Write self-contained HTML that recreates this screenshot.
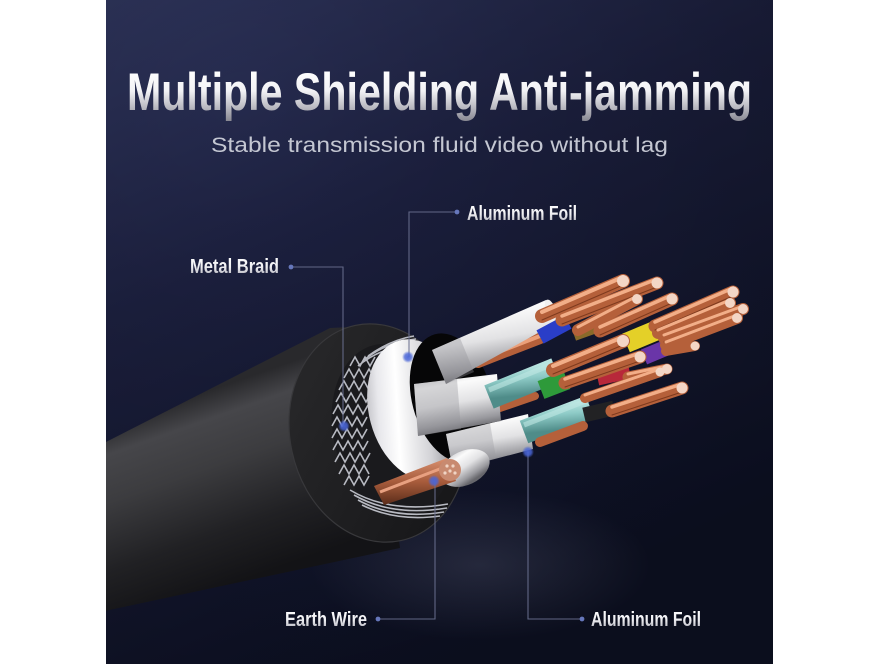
<!DOCTYPE html>
<html><head><meta charset="utf-8"><style>
html,body{margin:0;padding:0;background:#fff;width:870px;height:664px;overflow:hidden;}
svg{display:block;}
</style></head><body>
<svg width="870" height="664" viewBox="0 0 870 664" xmlns="http://www.w3.org/2000/svg">
<defs>
 <clipPath id="panel"><rect x="106" y="0" width="667" height="664"/></clipPath>
 <linearGradient id="bg" x1="0" y1="0" x2="0.45" y2="1">
  <stop offset="0" stop-color="#2d3359"/>
  <stop offset="0.4" stop-color="#1d2141"/>
  <stop offset="1" stop-color="#0e1227"/>
 </linearGradient>
 <radialGradient id="vig" cx="0.2" cy="0.15" r="0.9">
  <stop offset="0" stop-color="#000" stop-opacity="0"/>
  <stop offset="1" stop-color="#000" stop-opacity="0.25"/>
 </radialGradient>
 <radialGradient id="haze" cx="0.5" cy="0.5" r="0.5">
  <stop offset="0" stop-color="#7a7e98" stop-opacity="0.22"/>
  <stop offset="1" stop-color="#7a7e98" stop-opacity="0"/>
 </radialGradient>
 <linearGradient id="title" gradientUnits="userSpaceOnUse" x1="0" y1="70" x2="0" y2="122">
  <stop offset="0" stop-color="#ffffff"/>
  <stop offset="0.4" stop-color="#f2f2f5"/>
  <stop offset="0.75" stop-color="#b4b4bc"/>
  <stop offset="1" stop-color="#85858f"/>
 </linearGradient>
 <linearGradient id="lbl" x1="0" y1="0" x2="0" y2="1">
  <stop offset="0" stop-color="#ffffff"/>
  <stop offset="0.5" stop-color="#eeeef2"/>
  <stop offset="1" stop-color="#a2a2ac"/>
 </linearGradient>
 <linearGradient id="body" gradientUnits="userSpaceOnUse" x1="200" y1="394" x2="263" y2="573">
  <stop offset="0" stop-color="#29292c"/>
  <stop offset="0.14" stop-color="#46464a"/>
  <stop offset="0.38" stop-color="#3c3c3f"/>
  <stop offset="0.72" stop-color="#212124"/>
  <stop offset="1" stop-color="#131316"/>
 </linearGradient>
 <linearGradient id="face" x1="0" y1="0" x2="1" y2="1">
  <stop offset="0" stop-color="#2a2a2c"/>
  <stop offset="1" stop-color="#141416"/>
 </linearGradient>
 <linearGradient id="foil" x1="0" y1="0" x2="1" y2="0.3">
  <stop offset="0" stop-color="#a4a4aa"/>
  <stop offset="0.22" stop-color="#e8e8ec"/>
  <stop offset="0.4" stop-color="#ffffff"/>
  <stop offset="0.7" stop-color="#d2d2d6"/>
  <stop offset="1" stop-color="#7a7a80"/>
 </linearGradient>
 <linearGradient id="tube" x1="0" y1="0" x2="0.25" y2="1">
  <stop offset="0" stop-color="#c6c6ca"/>
  <stop offset="0.25" stop-color="#fbfbfb"/>
  <stop offset="0.55" stop-color="#e2e2e4"/>
  <stop offset="0.85" stop-color="#99999e"/>
  <stop offset="1" stop-color="#66666b"/>
 </linearGradient>
 <linearGradient id="teal" x1="0" y1="0" x2="0.25" y2="1">
  <stop offset="0" stop-color="#b8e4e0"/>
  <stop offset="0.4" stop-color="#8ecbc7"/>
  <stop offset="1" stop-color="#4f8c89"/>
 </linearGradient>
 <linearGradient id="earth" x1="0" y1="0" x2="0" y2="1">
  <stop offset="0" stop-color="#d89070"/>
  <stop offset="0.5" stop-color="#a85c3c"/>
  <stop offset="1" stop-color="#5a2c1a"/>
 </linearGradient>
 <radialGradient id="dotg" cx="0.5" cy="0.5" r="0.5">
  <stop offset="0" stop-color="#4a66d8" stop-opacity="0.95"/>
  <stop offset="0.55" stop-color="#4a66d8" stop-opacity="0.8"/>
  <stop offset="1" stop-color="#4a66d8" stop-opacity="0"/>
 </radialGradient>
</defs>

<g clip-path="url(#panel)">
 <rect x="106" y="0" width="667" height="664" fill="url(#bg)"/>
 <rect x="106" y="0" width="667" height="664" fill="url(#vig)"/>
 <ellipse cx="480" cy="565" rx="170" ry="75" fill="url(#haze)"/>

 <!-- cable body -->
 <path d="M100,445 L330,328 L372,326 L400,548 L100,612 Z" fill="url(#body)"/>
 <!-- end face -->
 <ellipse cx="378" cy="433" rx="88" ry="110" transform="rotate(-12 378 433)" fill="url(#face)" stroke="#38383b" stroke-width="1.2"/>
 <!-- braid cavity -->
 <ellipse cx="393" cy="430" rx="60" ry="87" transform="rotate(-12 393 430)" fill="#1a1a1d"/>
 <g stroke="#b8bac2" stroke-width="1.6" fill="none">
  <polyline points="350,366 355,357 360,366 365,357 370,366 375,357"/>
  <polyline points="344,378 349,369 354,378 359,369 364,378 369,369 374,378"/>
  <polyline points="339,390 344,381 349,390 354,381 359,390 364,381 369,390 374,381"/>
  <polyline points="336,402 341,393 346,402 351,393 356,402 361,393 366,402 371,393"/>
  <polyline points="333,414 338,405 343,414 348,405 353,414 358,405 363,414 368,405"/>
  <polyline points="332,426 337,417 342,426 347,417 352,426 357,417 362,426 367,417"/>
  <polyline points="332,438 337,429 342,438 347,429 352,438 357,429 362,438 367,429"/>
  <polyline points="333,450 338,441 343,450 348,441 353,450 358,441 363,450 368,441"/>
  <polyline points="335,462 340,453 345,462 350,453 355,462 360,453 365,462 370,453"/>
  <polyline points="339,474 344,465 349,474 354,465 359,474 364,465 369,474"/>
  <polyline points="344,485 349,476 354,485 359,476 364,485 369,476"/>
  <path d="M350,490 Q390,514 448,504"/>
  <path d="M354,495 Q392,517 447,508"/>
  <path d="M358,500 Q394,520 444,512"/>
  <path d="M362,505 Q396,522 440,516"/>
  <path d="M358,366 Q382,346 418,344"/>
  <path d="M364,360 Q386,342 416,339"/>
  <path d="M368,356 Q390,340 414,336"/>
 </g>
 <!-- foil cylinder -->
 <ellipse cx="418" cy="410" rx="49" ry="72" transform="rotate(-15 418 410)" fill="url(#foil)"/>
 <!-- inner black -->
 <ellipse cx="452" cy="398" rx="40" ry="66" transform="rotate(-15 452 398)" fill="#060607"/>

 <!-- copper behind tubes -->
 <g stroke-linecap="round">
  <line x1="478" y1="362" x2="540" y2="338" stroke="#b5603a" stroke-width="12"/>
  <line x1="478" y1="360" x2="540" y2="336" stroke="#eba07a" stroke-width="4"/>
  <line x1="500" y1="408" x2="535" y2="396" stroke="#b5603a" stroke-width="8"/>
 </g>

 <!-- tube C (lower) -->
 <polygon points="446,434 528,414 533,449 453,470" fill="url(#tube)"/>
 <polygon points="446,434 490,423 496,458 453,470" fill="#9a9aa0" opacity="0.35"/>
 <!-- tube B (middle) -->
 <polygon points="414,384 497,374 501,421 418,436" fill="url(#tube)"/>
 <polygon points="414,384 457,379 461,429 418,436" fill="#8e8e94" opacity="0.35"/>
 <!-- tube A (top) -->
 <polygon points="432,350 546,300 556,323 446,384" fill="url(#tube)"/>
 <polygon points="432,350 460,338 474,372 446,384" fill="#8e8e94" opacity="0.35"/>
 <ellipse cx="551" cy="311" rx="5" ry="12" transform="rotate(-20 551 311)" fill="#f0f0f0"/>

 <!-- teal wires -->
 <line x1="489" y1="397" x2="556" y2="370" stroke="url(#teal)" stroke-width="25"/>
 <line x1="489" y1="390" x2="553" y2="364" stroke="#c0e8e4" stroke-width="5" opacity="0.6"/>
 <line x1="524" y1="432" x2="590" y2="407" stroke="url(#teal)" stroke-width="24"/>
 <line x1="524" y1="425" x2="588" y2="400" stroke="#c0e8e4" stroke-width="5" opacity="0.6"/>

 <!-- colored insulators -->
 <g stroke-linecap="butt">
  <line x1="540" y1="337" x2="568" y2="322" stroke="#2a3ec8" stroke-width="15"/>
  <line x1="574" y1="335" x2="602" y2="325" stroke="#8a6a2a" stroke-width="12"/>
  <line x1="626" y1="343" x2="662" y2="328" stroke="#e4d028" stroke-width="20"/>
  <line x1="644" y1="357" x2="668" y2="347" stroke="#6a35a8" stroke-width="16"/>
  <line x1="541" y1="390" x2="567" y2="380" stroke="#2e9a3a" stroke-width="19"/>
  <line x1="598" y1="380" x2="630" y2="373" stroke="#b8283a" stroke-width="11"/>
  <line x1="584" y1="415" x2="614" y2="408" stroke="#222224" stroke-width="15"/>
 </g>

 <!-- copper bundles -->
 <g stroke-linecap="round">
  <g stroke="#b5603a">
   <line x1="542" y1="316" x2="623" y2="281" stroke-width="14"/>
   <line x1="562" y1="320" x2="657" y2="283" stroke-width="13"/>
   <line x1="578" y1="330" x2="637" y2="299" stroke-width="12"/>
   <line x1="600" y1="331" x2="672" y2="299" stroke-width="13"/>
   <line x1="655" y1="326" x2="733" y2="292" stroke-width="13"/>
   <line x1="658" y1="333" x2="730" y2="303" stroke-width="12"/>
   <line x1="664" y1="338" x2="743" y2="309" stroke-width="12"/>
   <line x1="666" y1="345" x2="737" y2="318" stroke-width="12"/>
   <line x1="666" y1="351" x2="695" y2="346" stroke-width="10"/>
   <line x1="553" y1="370" x2="623" y2="341" stroke-width="14"/>
   <line x1="565" y1="383" x2="640" y2="357" stroke-width="13"/>
   <line x1="628" y1="377" x2="667" y2="369" stroke-width="11"/>
   <line x1="612" y1="411" x2="682" y2="388" stroke-width="13"/>
   <line x1="585" y1="398" x2="660" y2="372" stroke-width="10"/>
   <line x1="540" y1="442" x2="583" y2="426" stroke-width="10"/>
  </g>
  <g stroke="#7e3a1e" stroke-width="1">
   <line x1="542" y1="320" x2="623" y2="285"/>
   <line x1="562" y1="324" x2="657" y2="287"/>
   <line x1="600" y1="335" x2="672" y2="303"/>
   <line x1="655" y1="330" x2="733" y2="296"/>
   <line x1="664" y1="342" x2="743" y2="313"/>
   <line x1="553" y1="374" x2="623" y2="345"/>
   <line x1="565" y1="387" x2="640" y2="361"/>
   <line x1="612" y1="415" x2="682" y2="392"/>
  </g>
  <g stroke="#f2ae88">
   <line x1="542" y1="312" x2="623" y2="277" stroke-width="4"/>
   <line x1="562" y1="316" x2="657" y2="279" stroke-width="3.5"/>
   <line x1="578" y1="327" x2="637" y2="296" stroke-width="3"/>
   <line x1="600" y1="327" x2="672" y2="295" stroke-width="3.5"/>
   <line x1="655" y1="322" x2="733" y2="288" stroke-width="3.5"/>
   <line x1="658" y1="330" x2="730" y2="300" stroke-width="3"/>
   <line x1="664" y1="335" x2="743" y2="306" stroke-width="3"/>
   <line x1="666" y1="342" x2="737" y2="315" stroke-width="3"/>
   <line x1="553" y1="366" x2="623" y2="337" stroke-width="4"/>
   <line x1="565" y1="379" x2="640" y2="353" stroke-width="3.5"/>
   <line x1="628" y1="374" x2="667" y2="366" stroke-width="3"/>
   <line x1="612" y1="407" x2="682" y2="384" stroke-width="3.5"/>
   <line x1="585" y1="395" x2="660" y2="369" stroke-width="3"/>
  </g>
  <g fill="#f3d6c6">
   <circle cx="623" cy="281" r="6"/>
   <circle cx="657" cy="283" r="5.5"/>
   <circle cx="637" cy="299" r="5"/>
   <circle cx="672" cy="299" r="5.5"/>
   <circle cx="733" cy="292" r="5.5"/>
   <circle cx="730" cy="303" r="5"/>
   <circle cx="743" cy="309" r="5"/>
   <circle cx="737" cy="318" r="5"/>
   <circle cx="695" cy="346" r="4.5"/>
   <circle cx="623" cy="341" r="6"/>
   <circle cx="640" cy="357" r="5.5"/>
   <circle cx="667" cy="369" r="5"/>
   <circle cx="682" cy="388" r="5.5"/>
   <circle cx="660" cy="372" r="4.5"/>
  </g>
 </g>

 <!-- earth wire -->
 <ellipse cx="465" cy="468" rx="26" ry="17" transform="rotate(-25 465 468)" fill="url(#tube)"/>
 <polygon points="374,486 447,458 456,481 384,505" fill="url(#earth)"/>
 <line x1="380" y1="492" x2="450" y2="465" stroke="#e8a080" stroke-width="3"/>
 <circle cx="450" cy="470" r="11" fill="#c88a70"/>
 <g fill="#f0d4c4">
  <circle cx="447" cy="466" r="1.6"/><circle cx="453" cy="466" r="1.6"/>
  <circle cx="450" cy="471" r="1.6"/><circle cx="445" cy="473" r="1.6"/><circle cx="455" cy="473" r="1.6"/>
 </g>
</g>

<!-- leader lines -->
<g stroke="#6a7090" stroke-width="1.1" fill="none" opacity="0.9">
 <path d="M291,267 H343 V426"/>
 <path d="M457,212 H409 V357"/>
 <path d="M378,619 H435 V481"/>
 <path d="M582,619 H528 V452"/>
</g>
<g fill="#6677bb">
 <circle cx="291" cy="267" r="2.4"/>
 <circle cx="457" cy="212" r="2.4"/>
 <circle cx="378" cy="619" r="2.4"/>
 <circle cx="582" cy="619" r="2.4"/>
</g>
<g fill="url(#dotg)">
 <circle cx="344" cy="426" r="6"/>
 <circle cx="408" cy="357" r="6"/>
 <circle cx="434" cy="481" r="6"/>
 <circle cx="528" cy="452" r="6"/>
</g>

<!-- text -->
<text x="127" y="110" font-family="'Liberation Sans', Arial, sans-serif" font-weight="bold" font-size="53" fill="url(#title)" textLength="625" lengthAdjust="spacingAndGlyphs">Multiple Shielding Anti-jamming</text>
<text x="211" y="152" font-family="'Liberation Sans', Arial, sans-serif" font-size="21" fill="#c4c7d2" textLength="457" lengthAdjust="spacingAndGlyphs">Stable transmission fluid video without lag</text>

<g font-family="'Liberation Sans', Arial, sans-serif" font-weight="bold" font-size="20" fill="url(#lbl)">
 <text x="467" y="220" textLength="110" lengthAdjust="spacingAndGlyphs">Aluminum Foil</text>
 <text x="190" y="273" textLength="89" lengthAdjust="spacingAndGlyphs">Metal Braid</text>
 <text x="285" y="626" textLength="82" lengthAdjust="spacingAndGlyphs">Earth Wire</text>
 <text x="591" y="626" textLength="110" lengthAdjust="spacingAndGlyphs">Aluminum Foil</text>
</g>
</svg>
</body></html>
